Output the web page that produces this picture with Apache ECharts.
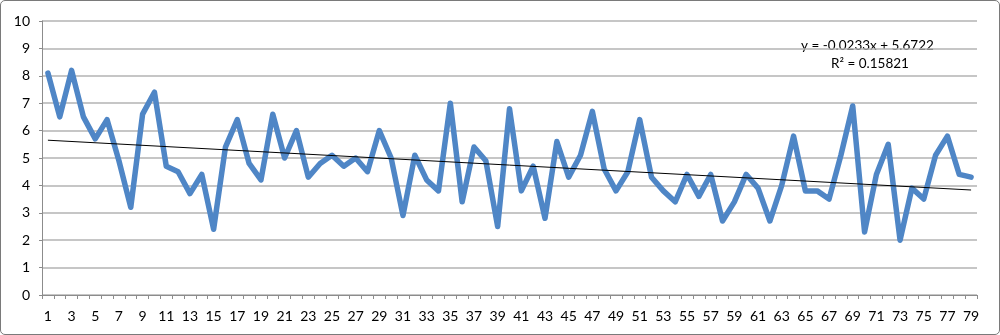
<!DOCTYPE html>
<html>
<head>
<meta charset="utf-8">
<script src="https://cdn.jsdelivr.net/npm/echarts@6/dist/echarts.min.js"></script>
<style>
html,body{margin:0;padding:0;background:#fff;}
#c{width:1000px;height:335px;box-sizing:border-box;border:1.5px solid #7a7a7a;border-radius:5px;}
</style>
</head>
<body>
<div id="c"></div>
<script>
const categories = [];
for (let i = 1; i <= 79; i++) categories.push(String(i));
const values = [
  8.1, 6.5, 8.2, 6.5, 5.7, 6.4, 4.9, 3.2, 6.6, 7.4,
  4.7, 4.5, 3.7, 4.4, 2.4, 5.4, 6.4, 4.8, 4.2, 6.6,
  5.0, 6.0, 4.3, 4.8, 5.1, 4.7, 5.0, 4.5, 6.0, 5.0,
  2.9, 5.1, 4.2, 3.8, 7.0, 3.4, 5.4, 4.9, 2.5, 6.8,
  3.8, 4.7, 2.8, 5.6, 4.3, 5.1, 6.7, 4.6, 3.8, 4.5,
  6.4, 4.3, 3.8, 3.4, 4.4, 3.6, 4.4, 2.7, 3.4, 4.4,
  3.9, 2.7, 4.0, 5.8, 3.8, 3.8, 3.5, 5.1, 6.9, 2.3,
  4.4, 5.5, 2.0, 3.9, 3.5, 5.1, 5.8, 4.4, 4.3
];
const trendEnds = [5.649, 3.832];
const equationText = 'y = -0.0233x + 5.6722';
const r2Text = 'R\u00b2 = 0.15821';

const chart = echarts.init(document.getElementById('c'));
chart.setOption({
  animation: false,
  grid: {left: 41, right: 22, top: 20, bottom: 39},
  xAxis: {
    type: 'category',
    data: categories,
    boundaryGap: true,
    axisLine: {lineStyle: {color: '#8c8c8c', width: 1}},
    axisTick: {show: true, interval: 0, length: 4, lineStyle: {color: '#8c8c8c'}},
    axisLabel: {interval: 1, margin: 14, fontFamily: 'Lato', fontSize: 14, color: '#000'},
    splitLine: {show: false}
  },
  yAxis: {
    type: 'value',
    min: 0, max: 10, interval: 1,
    axisLine: {show: true, lineStyle: {color: '#8c8c8c', width: 1}},
    axisTick: {show: true, length: 3, lineStyle: {color: '#8c8c8c'}},
    axisLabel: {margin: 12, fontFamily: 'Lato', fontSize: 14, color: '#000'},
    splitLine: {lineStyle: {color: '#b3b3b3', width: 1.5}}
  },
  series: [{
    type: 'line',
    data: values,
    symbol: 'none',
    lineStyle: {color: '#4f86c6', width: 5.5, join: 'round', cap: 'round'},
    z: 2,
    markLine: {
      silent: true,
      symbol: ['none', 'none'],
      label: {show: false},
      lineStyle: {color: '#000', width: 1, type: 'solid'},
      z: 5,
      data: [[{coord: ['1', trendEnds[0]]}, {coord: ['79', trendEnds[1]]}]]
    }
  }],
  graphic: [
    {type: 'text', left: 800, top: 38, style: {text: equationText, fontFamily: 'Lato', fontSize: 13.5, fill: '#000'}},
    {type: 'text', left: 830, top: 56, style: {text: r2Text, fontFamily: 'Lato', fontSize: 13.5, fill: '#000'}}
  ]
});
</script>
</body>
</html>
